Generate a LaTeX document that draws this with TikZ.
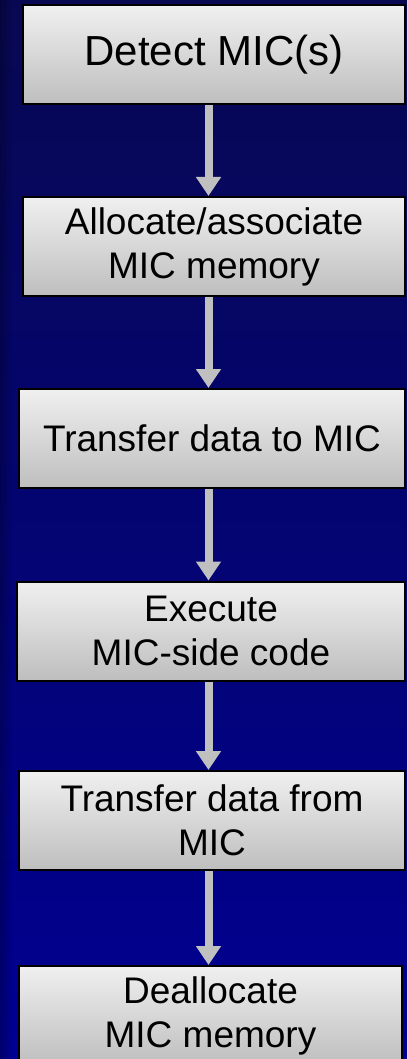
\documentclass[tikz,border=0pt]{standalone}
\usepackage{fontspec}
\setmainfont{Liberation Sans}
\usepackage{tikz}
\usetikzlibrary{
  arrows.meta,
  fadings
}
\definecolor{bgtop}{RGB}{8,8,82}
\definecolor{bgmid}{RGB}{0,0,122}
\definecolor{bgbot}{RGB}{0,0,146}
\definecolor{boxtop}{RGB}{240,240,240}
\definecolor{boxbot}{RGB}{190,190,190}
\definecolor{flowgray}{RGB}{192,192,192}
\tikzset{
  micbox/.style={draw=black, line width=2pt, top color=boxtop, bottom color=boxbot,
    minimum height=99pt, align=center, font=\fontsize{37}{44}\selectfont},
  flowarrow/.style={draw=flowgray, line width=8pt,
    -{Triangle[width=24pt,length=19pt]}}
}

\begin{document}
\begin{tikzpicture}
			\useasboundingbox (0,0) rectangle (407pt,-1059pt);
			\clip (0,0) rectangle (407pt,-1059pt);

			% backdrop
			\shade[top color=bgtop, middle color=bgmid, bottom color=bgbot] (0,0) rectangle (407pt,-1059pt);
			\fill[black, opacity=0.25, path fading=east] (0,0) rectangle (12pt,-1059pt);

			\coordinate (spine) at (208.5pt,0);

			\node[micbox, minimum width=382pt, font=\fontsize{42}{50}\selectfont] (detect) at (214pt,-55pt) {Detect MIC(s)};
			\node[micbox, minimum width=382pt] (alloc) at (214pt,-246.5pt) {Allocate/associate\\MIC memory};
			\node[micbox, minimum width=386pt] (xferto) at (212pt,-438.5pt) {Transfer data to MIC};
			\node[micbox, minimum width=388pt] (exec) at (211pt,-631pt) {Execute\\MIC-side code};
			\node[micbox, minimum width=386pt] (xferfrom) at (212pt,-820.5pt) {Transfer data from\\MIC};
			\node[micbox, minimum width=383pt] (dealloc) at (210.5pt,-1015.5pt) {Deallocate\\MIC memory};

			\draw[flowarrow] (detect.south -| spine) -- (alloc.north -| spine);
			\draw[flowarrow] (alloc.south -| spine) -- (xferto.north -| spine);
			\draw[flowarrow] (xferto.south -| spine) -- (exec.north -| spine);
			\draw[flowarrow] (exec.south -| spine) -- (xferfrom.north -| spine);
			\draw[flowarrow] (xferfrom.south -| spine) -- (dealloc.north -| spine);
		\end{tikzpicture}
\end{document}
